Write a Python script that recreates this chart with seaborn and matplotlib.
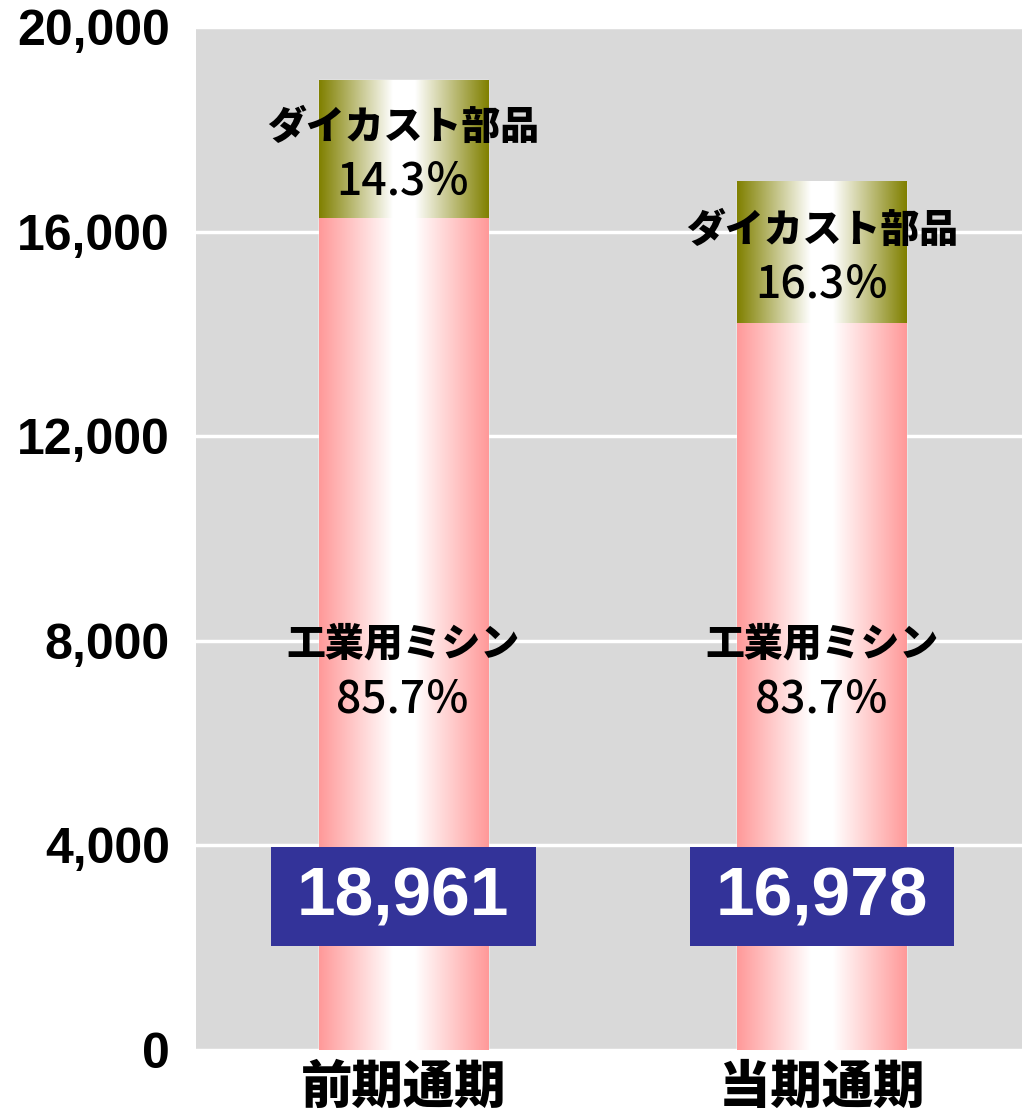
import numpy as np
import matplotlib
matplotlib.use("Agg")
import matplotlib.pyplot as plt
from matplotlib.patches import Rectangle
import seaborn as sns

# chart data
periods = ["前期通期", "当期通期"]
totals = [18961, 16978]
sewing_share = [85.7, 83.7]
diecast_share = [14.3, 16.3]
yticks = [0, 4000, 8000, 12000, 16000, 20000]

sewing = [t * s / 100 for t, s in zip(totals, sewing_share)]

sns.set_style("white")
plt.rcParams['font.family'] = ['Noto Sans CJK JP', 'DejaVu Sans']
plt.rcParams['text.color'] = 'black'
plt.rcParams['xtick.color'] = 'black'
plt.rcParams['ytick.color'] = 'black'

fig = plt.figure(figsize=(10.22, 11.13), dpi=100)
ax = fig.add_axes([0.1918, 0.0566, 0.8082, 0.9191])
ax.set_facecolor('#d9d9d9')

# stacked bars: total first (die-cast on top), sewing machines below
sns.barplot(x=periods, y=totals, color='#808000', width=0.404, saturation=1,
            ax=ax, zorder=2)
sns.barplot(x=periods, y=sewing, color='#ff9999', width=0.404, saturation=1,
            ax=ax, zorder=2)


def gradient(edge, n=256):
    edge = np.array(matplotlib.colors.to_rgb(edge))
    t = np.linspace(0, 1, n)
    f = 1 - np.abs(2 * t - 1)  # 0 at the edges, 1 in the middle
    f = np.clip(f * 1.15, 0, 1)
    img = edge[None, :] * (1 - f[:, None]) + f[:, None]
    return img[None, :, :]


for p in ax.patches:
    x0, w = p.get_x(), p.get_width()
    y0, h = p.get_y(), p.get_height()
    edge = p.get_facecolor()
    ax.imshow(gradient(edge), extent=(x0, x0 + w, y0, y0 + h),
              aspect='auto', zorder=3, interpolation='bilinear')

for i in range(len(periods)):
    # die-cast label in the top segment
    mid = (sewing[i] + totals[i]) / 2
    ax.text(i, mid + 430, "ダイカスト部品", ha='center', va='center',
            fontsize=28, fontweight='black', zorder=5)
    ax.text(i, mid - 640, f"{diecast_share[i]}％", ha='center', va='center',
            fontsize=32, fontweight='medium', zorder=5)
    # sewing machine label
    ax.text(i, 7950, "工業用ミシン", ha='center', va='center',
            fontsize=28, fontweight='black', zorder=5)
    ax.text(i, 6850, f"{sewing_share[i]}％", ha='center', va='center',
            fontsize=32, fontweight='medium', zorder=5)
    # total box
    ax.add_patch(Rectangle((i - 0.316, 2030), 0.632, 1940,
                           facecolor='#333399', edgecolor='none', zorder=6))
    ax.text(i, 2990, f"{totals[i]:,}", ha='center', va='center',
            fontsize=50, fontweight='bold', color='white',
            family='Liberation Sans', zorder=7)

ax.set_xlim(-0.495, 1.478)
ax.set_ylim(0, 20000)
ax.set_yticks(yticks)
ax.set_yticklabels([f"{v:,}" for v in yticks], family='Liberation Sans',
                   fontsize=36, fontweight='bold')
ax.set_xticks(range(len(periods)))
ax.set_xticklabels(periods, fontsize=37, fontweight='black')
ax.tick_params(axis='y', length=0, pad=19)
ax.tick_params(axis='x', length=0, pad=8)
ax.grid(axis='y', color='white', linewidth=2.5, zorder=1)
ax.set_axisbelow(True)
for s in ax.spines.values():
    s.set_visible(False)
ax.set_xlabel('')
ax.set_ylabel('')

fig.savefig("out.png", dpi=100)
